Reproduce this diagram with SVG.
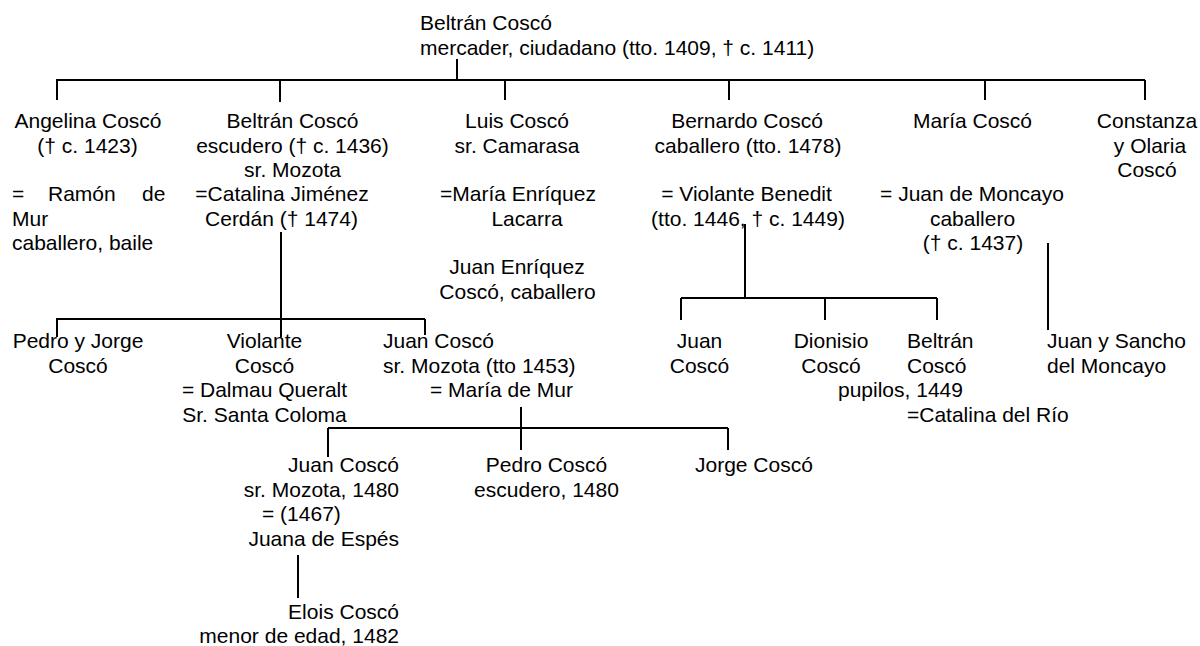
<svg xmlns="http://www.w3.org/2000/svg" width="1200" height="646" viewBox="0 0 1200 646">
<style>
text{font-family:"Liberation Sans",Arial,sans-serif;font-size:21px;fill:#000}
.m{text-anchor:middle}
.e{text-anchor:end}
.c path{stroke:#000;stroke-width:2;fill:none}
</style>
<rect width="1200" height="646" fill="#fff"/>
<g class="c" id="connectors">
<path d="M457 59V80M57 80H1145M57 79V100M280 80V102M505 80V100M729 80V100M985 80V100M1145 80V100"/>
<path d="M281 232V337M57 319H425M57 318V337M425 319V335"/>
<path d="M745 224V298M681 298H937M681 298V320M825 298V320M937 298V320"/>
<path d="M1048 243V330"/>
<path d="M521 407V450M328 428H728M328 428V457M728 428V450"/>
<path d="M298 555V598"/>
</g>
<g id="n-beltran-sr">
<text x="420" y="30">Beltrán Coscó</text>
<text x="420" y="54.5">mercader, ciudadano (tto. 1409, † c. 1411)</text>
</g>
<g id="n-angelina">
<text class="m" x="88" y="128.3">Angelina Coscó</text>
<text class="m" x="87.5" y="152.5">(† c. 1423)</text>
<text x="12" y="201">=</text>
<text x="48" y="201">Ramón</text>
<text x="142" y="201">de</text>
<text x="12" y="225.5">Mur</text>
<text x="12" y="249.7">caballero, baile</text>
</g>
<g id="n-beltran">
<text class="m" x="292.5" y="128.3">Beltrán Coscó</text>
<text class="m" x="292.5" y="152.5">escudero († c. 1436)</text>
<text class="m" x="292.5" y="176.7">sr. Mozota</text>
<text class="m" x="282" y="201">=Catalina Jiménez</text>
<text class="m" x="281.5" y="225.5">Cerdán († 1474)</text>
</g>
<g id="n-luis">
<text class="m" x="517" y="128.3">Luis Coscó</text>
<text class="m" x="517" y="152.5">sr. Camarasa</text>
<text class="m" x="518" y="201">=María Enríquez</text>
<text class="m" x="527" y="225.5">Lacarra</text>
</g>
<g id="n-juan-enriquez">
<text class="m" x="517" y="274">Juan Enríquez</text>
<text class="m" x="517.5" y="298.5">Coscó, caballero</text>
</g>
<g id="n-bernardo">
<text class="m" x="747" y="128.3">Bernardo Coscó</text>
<text class="m" x="748" y="152.5">caballero (tto. 1478)</text>
<text class="m" x="746.5" y="201">= Violante Benedit</text>
<text class="m" x="748" y="225.5">(tto. 1446, † c. 1449)</text>
</g>
<g id="n-maria">
<text class="m" x="972.5" y="128.3">María Coscó</text>
<text class="m" x="972" y="201">= Juan de Moncayo</text>
<text class="m" x="972.5" y="225.5">caballero</text>
<text class="m" x="973" y="249.7">(† c. 1437)</text>
</g>
<g id="n-constanza">
<text class="m" x="1147" y="128.3">Constanza</text>
<text class="m" x="1150" y="152.5">y Olaria</text>
<text class="m" x="1147" y="176.7">Coscó</text>
</g>
<g id="n-pedro-jorge">
<text class="m" x="78" y="348">Pedro y Jorge</text>
<text class="m" x="78" y="372.5">Coscó</text>
</g>
<g id="n-violante">
<text class="m" x="264.5" y="348">Violante</text>
<text class="m" x="264.5" y="372.5">Coscó</text>
<text class="m" x="264.5" y="397">= Dalmau Queralt</text>
<text class="m" x="264.5" y="421.5">Sr. Santa Coloma</text>
</g>
<g id="n-juan-mozota">
<text x="383" y="348">Juan Coscó</text>
<text x="383" y="372.5">sr. Mozota (tto 1453)</text>
<text x="430" y="397">= María de Mur</text>
</g>
<g id="n-juan-b">
<text class="m" x="699.5" y="348">Juan</text>
<text class="m" x="699.5" y="372.5">Coscó</text>
</g>
<g id="n-dionisio">
<text class="m" x="831" y="348">Dionisio</text>
<text class="m" x="831" y="372.5">Coscó</text>
</g>
<g id="n-beltran-b">
<text x="907" y="348">Beltrán</text>
<text x="907" y="372.5">Coscó</text>
<text x="838" y="397">pupilos, 1449</text>
<text x="907" y="421.5">=Catalina del Río</text>
</g>
<g id="n-juan-sancho">
<text x="1047" y="348">Juan y Sancho</text>
<text x="1047" y="372.5">del Moncayo</text>
</g>
<g id="n-juan-1480">
<text class="e" x="399" y="472">Juan Coscó</text>
<text class="e" x="399" y="496.5">sr. Mozota, 1480</text>
<text x="262" y="521">= (1467)</text>
<text class="e" x="399" y="545.5">Juana de Espés</text>
</g>
<g id="n-pedro">
<text class="m" x="546.5" y="472">Pedro Coscó</text>
<text class="m" x="546.5" y="496.5">escudero, 1480</text>
</g>
<g id="n-jorge">
<text x="695" y="472">Jorge Coscó</text>
</g>
<g id="n-elois">
<text class="e" x="399" y="618.5">Elois Coscó</text>
<text class="e" x="399" y="643">menor de edad, 1482</text>
</g>
</svg>
